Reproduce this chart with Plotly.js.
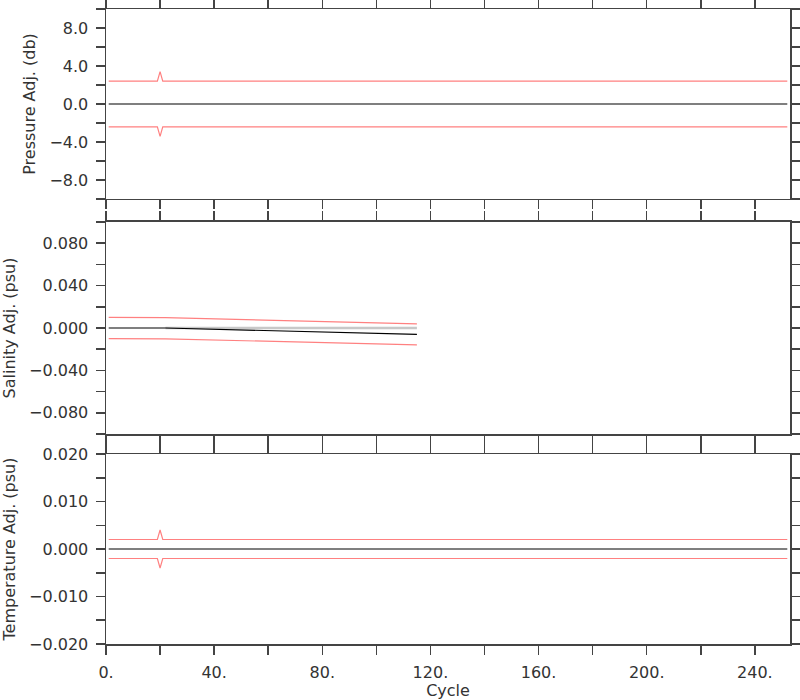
<!DOCTYPE html>
<html><head><meta charset="utf-8">
<script src="https://cdn.plot.ly/plotly-3.0.1.min.js"></script>
<style>html,body{margin:0;padding:0;background:#fff}#c{width:800px;height:700px}</style>
</head><body><div id="c"></div>
<script>
// Pressure panel
const presCycles = [1, 19, 20, 21, 252];
const presAdj = [0, 0, 0, 0, 0];
const presUpper = [2.4, 2.4, 3.4, 2.4, 2.4];
const presLower = [-2.4, -2.4, -3.4, -2.4, -2.4];
// Salinity panel
const salCycles = [1, 19, 20, 21, 22, 115];
const salAdj = [0, 0, 0, 0, 0, -0.006];
const salUpper = [0.010, 0.010, 0.0105, 0.010, 0.0098, 0.0038];
const salLower = [-0.010, -0.010, -0.0098, -0.010, -0.0102, -0.016];
const salRefCycles = [22, 115];
const salRef = [0, 0];
// Temperature panel
const tempCycles = [1, 19, 20, 21, 252];
const tempAdj = [0, 0, 0, 0, 0];
const tempUpper = [0.002, 0.002, 0.004, 0.002, 0.002];
const tempLower = [-0.002, -0.002, -0.004, -0.002, -0.002];
// Ticks
const xTickVals = [0,20,40,60,80,100,120,140,160,180,200,220,240];
const xTickText = ['0.','','40.','','80.','','120.','','160.','','200.','','240.'];
const pTickVals = [-10,-8,-6,-4,-2,0,2,4,6,8,10];
const pTickText = ['','\u22128.0','','\u22124.0','','0.0','','4.0','','8.0',''];
const sTickVals = [-0.1,-0.08,-0.06,-0.04,-0.02,0,0.02,0.04,0.06,0.08,0.1];
const sTickText = ['','\u22120.080','','\u22120.040','','0.000','','0.040','','0.080',''];
const tTickVals = [-0.02,-0.015,-0.01,-0.005,0,0.005,0.01,0.015,0.02];
const tTickText = ['\u22120.020','','\u22120.010','','0.000','','0.010','','0.020'];

const red = '#ff8080';
function tr(x, y, xa, ya, color, w) {
  return {x: x, y: y, xaxis: xa, yaxis: ya, type: 'scatter', mode: 'lines',
          line: {color: color, width: w}, hoverinfo: 'skip', showlegend: false};
}
const data = [
  tr(presCycles, presUpper, 'x', 'y', red, 1.2),
  tr(presCycles, presLower, 'x', 'y', red, 1.2),
  tr(presCycles, presAdj, 'x', 'y', '#000', 1.2),
  tr(salRefCycles, salRef, 'x2', 'y2', '#c8c8c8', 2.5),
  tr(salCycles, salUpper, 'x2', 'y2', red, 1.2),
  tr(salCycles, salLower, 'x2', 'y2', red, 1.2),
  tr(salCycles, salAdj, 'x2', 'y2', '#000', 1.2),
  tr(tempCycles, tempUpper, 'x3', 'y3', red, 1.2),
  tr(tempCycles, tempLower, 'x3', 'y3', red, 1.2),
  tr(tempCycles, tempAdj, 'x3', 'y3', '#000', 1.2)
];
const font = {family: 'DejaVu Sans, sans-serif', size: 16, color: '#333'};
function xax(anchor, showLabels, title) {
  const a = {anchor: anchor, range: [0, 253], tickmode: 'array', tickvals: xTickVals,
    ticktext: showLabels ? xTickText : xTickVals.map(() => ''), showticklabels: showLabels,
    ticks: 'outside', ticklen: 9, tickwidth: 1.5, tickcolor: '#444', showline: true, linecolor: '#444',
    linewidth: 1.5, mirror: 'ticks', showgrid: false, zeroline: false, tickfont: font,
    ticklabelstandoff: 4};
  if (title) a.title = {text: title, font: font, standoff: 6};
  return a;
}
function yax(domain, range, vals, text, title) {
  return {domain: domain, range: range, tickmode: 'array', tickvals: vals, ticktext: text,
    ticks: 'outside', ticklen: 9, tickwidth: 1.5, tickcolor: '#444', showline: true, linecolor: '#444',
    linewidth: 1.5, mirror: 'ticks', showgrid: false, zeroline: false, tickfont: font,
    ticklabelstandoff: 4,
    title: {text: title, font: font, standoff: 10}};
}
const layout = {
  width: 800, height: 700, margin: {l: 106, r: 10, t: 9, b: 56},
  paper_bgcolor: '#fff', plot_bgcolor: '#fff', font: font, showlegend: false,
  xaxis: xax('y', false),
  xaxis2: xax('y2', false),
  xaxis3: xax('y3', true, 'Cycle'),
  yaxis: yax([0.7008, 1.0], [-10, 10], pTickVals, pTickText, 'Pressure Adj. (db)'),
  yaxis2: yax([0.3307, 0.6646], [-0.1, 0.1], sTickVals, sTickText, 'Salinity Adj. (psu)'),
  yaxis3: yax([0, 0.2992], [-0.02, 0.02], tTickVals, tTickText, 'Temperature Adj. (psu)')
};
Plotly.newPlot('c', data, layout, {staticPlot: true, displayModeBar: false});
</script></body></html>
